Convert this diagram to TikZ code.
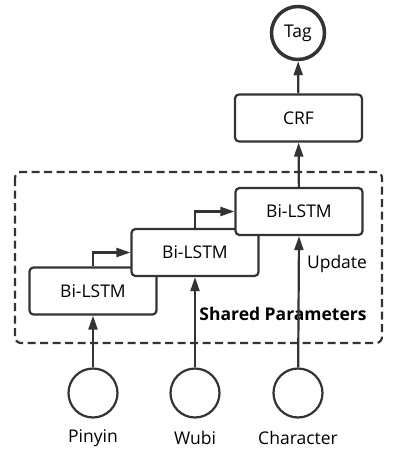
\documentclass[tikz,border=0pt]{standalone}
\usepackage{fontspec}
\setmainfont{Open Sans}
\usetikzlibrary{arrows.meta}
\definecolor{ink}{HTML}{333333}
\begin{document}
\begin{tikzpicture}[x=1pt, y=-1pt, font=\fontsize{17.5}{20}\selectfont,
    box/.style={draw=ink, line width=2.2pt, rounded corners=4pt, fill=white,
      minimum width=127pt, minimum height=47pt, inner sep=0pt},
    inp/.style={draw=ink, circle, line width=2.2pt, minimum size=49pt, inner sep=0pt},
    link/.style={draw=ink, line width=2.2pt, -{Triangle[length=14pt, width=9pt]}}]
  \useasboundingbox (0,0) rectangle (404,451);
  % ---- shared block ----
  \draw[ink, line width=2.2pt, rounded corners=6pt, dash pattern=on 8pt off 4.5pt]
    (15,172) rectangle (382,343);
  \node[box] (lstm1) at (93,291) {Bi-LSTM};
  \node[box] (lstm2) at (195,252.5) {Bi-LSTM};
  \node[box] (lstm3) at (299,211.5) {Bi-LSTM};
  \node (upd) at (337,264) {Update};
  \node[font=\fontsize{17.5}{20}\selectfont\bfseries] (shared) at (283,314) {Shared Parameters};
  % ---- output ----
  \node[box] (crf) at (298.5,118) {CRF};
  \node[draw=ink, circle, line width=3.5pt, minimum size=53pt, inner sep=0pt] (tag) at (298,33) {Tag};
  % ---- inputs ----
  \foreach \n/\x/\t in {pinyin/93/Pinyin, wubi/195/Wubi, char/298/Character} {
    \node[inp] (\n) at (\x,393) {};
    \node (\n-lbl) at (\x,438) {\t};
  }
  % ---- arrows ----
  \draw[link] (pinyin) -- (lstm1);
  \draw[link] (wubi) -- (lstm2.south);
  \draw[link] (char) -- (lstm3.south);
  \draw[link] (lstm1.north) |- (lstm2.west);
  \draw[link] (lstm2.north) |- (lstm3.west);
  \draw[link] (lstm3) -- (crf);
  \draw[link] (crf) -- (tag);
\end{tikzpicture}
\end{document}
